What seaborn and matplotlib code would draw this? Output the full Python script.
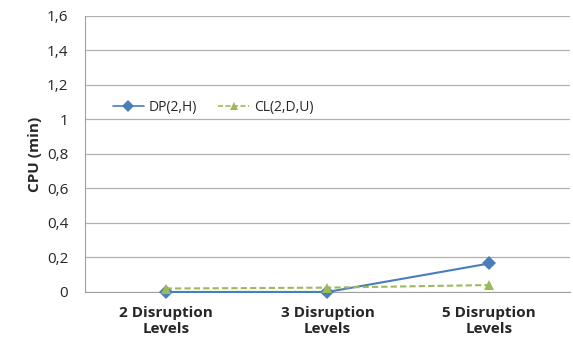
import matplotlib
matplotlib.use("Agg")
import matplotlib.pyplot as plt
import seaborn as sns
import pandas as pd
from matplotlib.ticker import FixedLocator, FuncFormatter

categories = ["2 Disruption\nLevels", "3 Disruption\nLevels", "5 Disruption\nLevels"]
dp_values = [0.0, 0.0, 0.165]
cl_values = [0.02, 0.025, 0.04]
series_names = ["DP(2,H)", "CL(2,D,U)"]
y_ticks = [0, 0.2, 0.4, 0.6, 0.8, 1.0, 1.2, 1.4, 1.6]

df = pd.DataFrame({
    "x": list(range(len(categories))) * 2,
    "cpu": dp_values + cl_values,
    "series": [series_names[0]] * 3 + [series_names[1]] * 3,
})

sns.set_style("white")
plt.rcParams["font.family"] = ["Open Sans", "DejaVu Sans"]

fig = plt.figure(figsize=(5.73, 3.6), dpi=100)
ax = fig.add_axes([0.148, 0.189, 0.847, 0.767])

palette = {series_names[0]: "#4a7ebb", series_names[1]: "#9bbb59"}
sns.lineplot(data=df, x="x", y="cpu", hue="series", style="series",
             palette=palette, markers={series_names[0]: "D", series_names[1]: "^"},
             dashes={series_names[0]: "", series_names[1]: (3, 1.5)},
             markersize=7.5, linewidth=1.5, markeredgewidth=0, ax=ax)
for line in ax.get_lines():
    line.set_clip_on(False)
    line.set_zorder(5)

ax.set_xlim(-0.5, 2.5)
ax.set_ylim(0, 1.6)
ax.yaxis.set_major_locator(FixedLocator(y_ticks))
ax.yaxis.set_major_formatter(FuncFormatter(lambda v, p: ("%g" % round(v, 1)).replace(".", ",")))
ax.grid(axis="y", color="#b0b0b0", linewidth=0.9)
ax.set_axisbelow(True)

ax.set_xticks(range(len(categories)))
ax.set_xticklabels(categories, fontweight="bold", fontsize=11)
ax.set_xticks([0.5, 1.5], minor=True)
ax.tick_params(axis="x", which="major", length=0, pad=10)
ax.tick_params(axis="x", which="minor", length=6, color="#b0b0b0", direction="out")
ax.tick_params(axis="y", length=6, color="#b0b0b0", direction="out", labelsize=11, pad=6)

for s in ["top", "right"]:
    ax.spines[s].set_visible(False)
for s in ["left", "bottom"]:
    ax.spines[s].set_color("#a0a0a0")

ax.set_xlabel("")
ax.set_ylabel("CPU (min)", fontweight="bold", fontsize=11, labelpad=3)

handles, labels = ax.get_legend_handles_labels()
for h in handles:
    h.set_markersize(6)
    h.set_linewidth(1.2)
ax.legend(handles, labels, loc="center left", bbox_to_anchor=(0.058, 0.667), ncol=2,
          frameon=False, fontsize=10, handlelength=2.2, handletextpad=0.4,
          columnspacing=1.5, borderpad=0, borderaxespad=0)

fig.savefig("out.png", dpi=100)
